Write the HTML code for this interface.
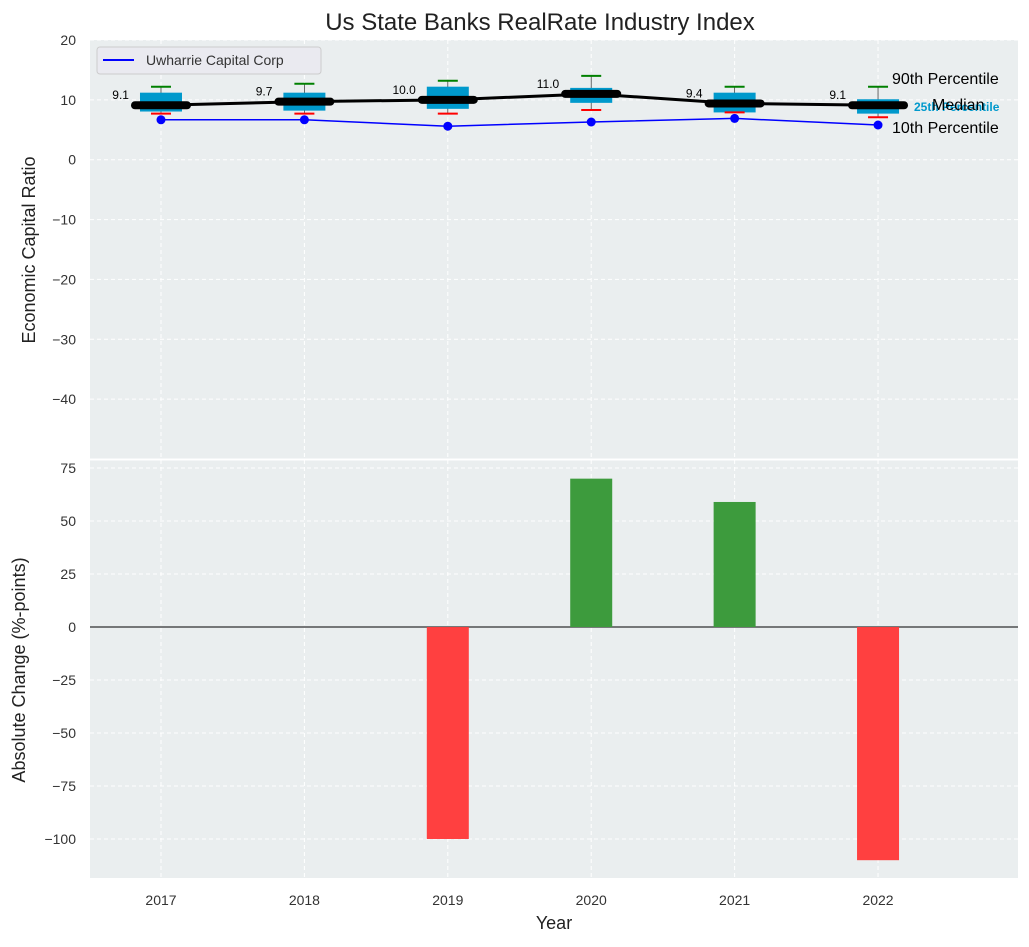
<!DOCTYPE html>
<html><head><meta charset="utf-8"><style>
body{margin:0;background:#fff}
svg{font-family:"Liberation Sans","DejaVu Sans",sans-serif}
</style></head><body>
<svg id="c" width="1029" height="942" xmlns="http://www.w3.org/2000/svg"></svg>
<script>
const years=[2017,2018,2019,2020,2021,2022];
const medians=[9.1,9.7,10.0,11.0,9.4,9.1];
const q25=[8.05,8.2,8.5,9.5,7.9,7.7];
const q75=[11.2,11.2,12.2,12.0,11.2,10.1];
const p10=[7.7,7.7,7.7,8.3,7.9,7.1];
const p90=[12.2,12.7,13.2,14.0,12.2,12.2];
const bank=[6.67,6.67,5.6,6.3,6.9,5.8];
const changes=[0,0,-100,70,59,-110];
const topTicks=[20,10,0,-10,-20,-30,-40];
const botTicks=[75,50,25,0,-25,-50,-75,-100];

const NS="http://www.w3.org/2000/svg";
const svg=document.getElementById('c');
function el(t,a,p){const e=document.createElementNS(NS,t);for(const k in a)e.setAttribute(k,a[k]);(p||svg).appendChild(e);return e;}
const L=90,R=1018;
const x=v=>L+(v-2016.505)/(2022.976-2016.505)*(R-L);
const T0=40,T1=459,B0=460,B1=878;
const yt=v=>T0+(20-v)/70*(T1-T0);
const yb=v=>B0+(78.8-v)/(78.8+118.4)*(B1-B0);

// backgrounds
let e=el('rect',{x:L,y:T0,width:R-L,height:T1-T0,fill:'#eaeeef'});

e=el('rect',{x:L,y:B0,width:R-L,height:B1-B0,fill:'#eaeeef'});


// grids
years.forEach(yr=>{
  el('line',{x1:x(yr),x2:x(yr),y1:T0,y2:T1,stroke:'#fff','stroke-dasharray':'4,3'});
  el('line',{x1:x(yr),x2:x(yr),y1:B0,y2:B1,stroke:'#fff','stroke-dasharray':'4,3'});
  const t=el('text',{x:x(yr),y:B1+27,'text-anchor':'middle','font-size':14,fill:'#333'});t.textContent=yr;
  
});
topTicks.forEach(v=>{
  el('line',{x1:L,x2:R,y1:yt(v),y2:yt(v),stroke:'#fff','stroke-dasharray':'4,3'});
  const t=el('text',{x:76,y:yt(v)+5,'text-anchor':'end','font-size':14,fill:'#333'});t.textContent=v<0?'−'+(-v):v;
  
});
botTicks.forEach(v=>{
  el('line',{x1:L,x2:R,y1:yb(v),y2:yb(v),stroke:'#fff','stroke-dasharray':'4,3'});
  const t=el('text',{x:76,y:yb(v)+5,'text-anchor':'end','font-size':14,fill:'#333'});t.textContent=v<0?'−'+(-v):v;
  
});
el('line',{x1:L,x2:R,y1:459.5,y2:459.5,stroke:'#fff','stroke-width':2});

// boxes
const bw=42;
years.forEach((yr,i)=>{
  const cx=x(yr);
  const g=el('g',{});
  
  el('line',{x1:cx,x2:cx,y1:yt(p90[i]),y2:yt(p10[i]),stroke:'#444','stroke-width':0.8},g);
  el('rect',{x:cx-bw/2,y:yt(q75[i]),width:bw,height:yt(q25[i])-yt(q75[i]),fill:'#0099cc'},g);
  el('line',{x1:cx-10,x2:cx+10,y1:yt(p90[i]),y2:yt(p90[i]),stroke:'green','stroke-width':2},g);
  el('line',{x1:cx-10,x2:cx+10,y1:yt(p10[i]),y2:yt(p10[i]),stroke:'red','stroke-width':2},g);
});
// median line
let d=years.map((yr,i)=>(i?'L':'M')+x(yr)+','+yt(medians[i])).join(' ');
e=el('path',{d:d,fill:'none',stroke:'#000','stroke-width':3});

years.forEach((yr,i)=>{
  const m=el('line',{x1:x(yr)-26,x2:x(yr)+26,y1:yt(medians[i]),y2:yt(medians[i]),stroke:'#000','stroke-width':8,'stroke-linecap':'round'});
  
  const t=el('text',{x:x(yr)-32,y:yt(medians[i])-6,'text-anchor':'end','font-size':12,fill:'#000'});t.textContent=medians[i].toFixed(1);
  
});
// bank line
d=years.map((yr,i)=>(i?'L':'M')+x(yr)+','+yt(bank[i])).join(' ');
e=el('path',{d:d,fill:'none',stroke:'#0000ff','stroke-width':1.5});

years.forEach((yr,i)=>{
  const c=el('circle',{cx:x(yr),cy:yt(bank[i]),r:4.5,fill:'#0000ff'});
  
});
// right labels
const lbl=(tx,xx,yy,fs,col,bold,name)=>{const t=el('text',{x:xx,y:yy,'font-size':fs,fill:col,'font-weight':bold?'bold':'normal'});t.textContent=tx;};
lbl('25th Percentile',914,111,12,'#0099cc',true,'q25-label');
lbl('90th Percentile',892,84,16,'#000',false,'p90-label');
lbl('Median',932,110,16,'#000',false,'median-label');
lbl('10th Percentile',892,133,16,'#000',false,'p10-label');

// legend
const lg=el('g',{});
el('rect',{x:97,y:47,width:224,height:27,rx:3,fill:'#eaeaf0',stroke:'#ccc'},lg);
el('line',{x1:103,x2:134,y1:60,y2:60,stroke:'#0000ff','stroke-width':2},lg);
const lt=el('text',{x:146,y:65,'font-size':14,fill:'#333'},lg);lt.textContent='Uwharrie Capital Corp';

// bars
el('line',{x1:L,x2:R,y1:yb(0),y2:yb(0),stroke:'#000','stroke-width':1});
years.forEach((yr,i)=>{
  const v=changes[i];if(!v)return;
  const r=el('rect',{x:x(yr)-21,y:Math.min(yb(0),yb(v)),width:42,height:Math.abs(yb(v)-yb(0)),fill:v>0?'#3d9b3d':'#ff4040'});
  
});

// titles
lbl('Us State Banks RealRate Industry Index',0,0,24,'#222',false,'chart-title');
svg.lastChild.setAttribute('x',540);svg.lastChild.setAttribute('y',30);svg.lastChild.setAttribute('text-anchor','middle');
lbl('Year',0,0,18,'#222',false,'x-axis-title');
svg.lastChild.setAttribute('x',554);svg.lastChild.setAttribute('y',929);svg.lastChild.setAttribute('text-anchor','middle');
let t=el('text',{x:0,y:0,'font-size':18,fill:'#222','text-anchor':'middle',transform:'translate(35,250) rotate(-90)'});t.textContent='Economic Capital Ratio';

t=el('text',{x:0,y:0,'font-size':18,fill:'#222','text-anchor':'middle',transform:'translate(25,670) rotate(-90)'});t.textContent='Absolute Change (%-points)';

</script>
</body></html>
